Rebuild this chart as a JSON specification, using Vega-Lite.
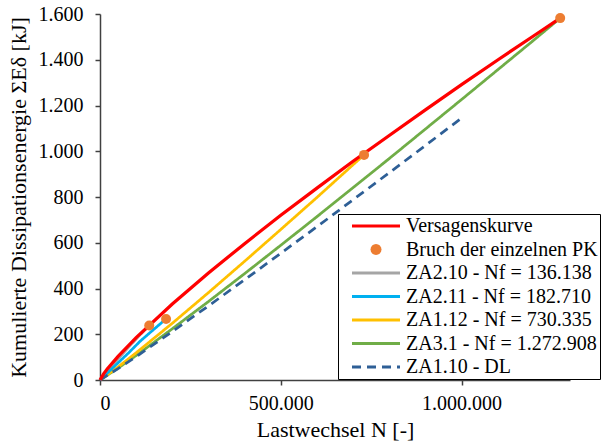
{
  "$schema": "https://vega.github.io/schema/vega-lite/v6.json",
  "width": 470,
  "height": 366,
  "autosize": {"type": "none"},
  "padding": {"left": 100, "top": 14, "right": 34, "bottom": 67},
  "background": "white",
  "config": {
    "view": {"stroke": null},
    "font": "Times New Roman",
    "locale": {"number": {"decimal": ",", "thousands": ".", "grouping": [3], "currency": ["", " €"]}},
    "axis": {
      "grid": false,
      "domainColor": "#404040",
      "domainWidth": 1.5,
      "tickColor": "#404040",
      "tickWidth": 1.5,
      "tickSize": 5,
      "labelColor": "black",
      "titleColor": "black",
      "labelFontSize": 20,
      "titleFontSize": 22,
      "titleFontWeight": "normal"
    }
  },
  "data": {
    "values": [
      {"s": "ZA3.1 - Nf = 1.272.908", "k": "line", "x": 0, "y": 0},
      {"s": "ZA3.1 - Nf = 1.272.908", "k": "line", "x": 50000, "y": 52},
      {"s": "ZA3.1 - Nf = 1.272.908", "k": "line", "x": 100000, "y": 107},
      {"s": "ZA3.1 - Nf = 1.272.908", "k": "line", "x": 200000, "y": 224},
      {"s": "ZA3.1 - Nf = 1.272.908", "k": "line", "x": 300000, "y": 343},
      {"s": "ZA3.1 - Nf = 1.272.908", "k": "line", "x": 400000, "y": 465},
      {"s": "ZA3.1 - Nf = 1.272.908", "k": "line", "x": 500000, "y": 589},
      {"s": "ZA3.1 - Nf = 1.272.908", "k": "line", "x": 600000, "y": 714},
      {"s": "ZA3.1 - Nf = 1.272.908", "k": "line", "x": 700000, "y": 841},
      {"s": "ZA3.1 - Nf = 1.272.908", "k": "line", "x": 800000, "y": 968},
      {"s": "ZA3.1 - Nf = 1.272.908", "k": "line", "x": 900000, "y": 1097},
      {"s": "ZA3.1 - Nf = 1.272.908", "k": "line", "x": 1000000, "y": 1226},
      {"s": "ZA3.1 - Nf = 1.272.908", "k": "line", "x": 1100000, "y": 1356},
      {"s": "ZA3.1 - Nf = 1.272.908", "k": "line", "x": 1200000, "y": 1486},
      {"s": "ZA3.1 - Nf = 1.272.908", "k": "line", "x": 1272908, "y": 1582},
      {"s": "ZA1.12 - Nf = 730.335", "k": "line", "x": 0, "y": 0},
      {"s": "ZA1.12 - Nf = 730.335", "k": "line", "x": 50000, "y": 57},
      {"s": "ZA1.12 - Nf = 730.335", "k": "line", "x": 100000, "y": 119},
      {"s": "ZA1.12 - Nf = 730.335", "k": "line", "x": 200000, "y": 248},
      {"s": "ZA1.12 - Nf = 730.335", "k": "line", "x": 300000, "y": 382},
      {"s": "ZA1.12 - Nf = 730.335", "k": "line", "x": 400000, "y": 519},
      {"s": "ZA1.12 - Nf = 730.335", "k": "line", "x": 500000, "y": 658},
      {"s": "ZA1.12 - Nf = 730.335", "k": "line", "x": 600000, "y": 798},
      {"s": "ZA1.12 - Nf = 730.335", "k": "line", "x": 700000, "y": 941},
      {"s": "ZA1.12 - Nf = 730.335", "k": "line", "x": 730335, "y": 984},
      {"s": "ZA2.10 - Nf = 136.138", "k": "line", "x": 0, "y": 0},
      {"s": "ZA2.10 - Nf = 136.138", "k": "line", "x": 20000, "y": 38},
      {"s": "ZA2.10 - Nf = 136.138", "k": "line", "x": 50000, "y": 92},
      {"s": "ZA2.10 - Nf = 136.138", "k": "line", "x": 80000, "y": 145},
      {"s": "ZA2.10 - Nf = 136.138", "k": "line", "x": 110000, "y": 196},
      {"s": "ZA2.10 - Nf = 136.138", "k": "line", "x": 136138, "y": 238},
      {"s": "ZA2.11 - Nf = 182.710", "k": "line", "x": 0, "y": 0},
      {"s": "ZA2.11 - Nf = 182.710", "k": "line", "x": 40000, "y": 60},
      {"s": "ZA2.11 - Nf = 182.710", "k": "line", "x": 80000, "y": 120},
      {"s": "ZA2.11 - Nf = 182.710", "k": "line", "x": 110000, "y": 168},
      {"s": "ZA2.11 - Nf = 182.710", "k": "line", "x": 150000, "y": 223},
      {"s": "ZA2.11 - Nf = 182.710", "k": "line", "x": 182710, "y": 267},
      {"s": "ZA1.10 - DL", "k": "line", "x": 0, "y": 0},
      {"s": "ZA1.10 - DL", "k": "line", "x": 50000, "y": 50},
      {"s": "ZA1.10 - DL", "k": "line", "x": 100000, "y": 102},
      {"s": "ZA1.10 - DL", "k": "line", "x": 200000, "y": 212},
      {"s": "ZA1.10 - DL", "k": "line", "x": 300000, "y": 324},
      {"s": "ZA1.10 - DL", "k": "line", "x": 400000, "y": 438},
      {"s": "ZA1.10 - DL", "k": "line", "x": 500000, "y": 554},
      {"s": "ZA1.10 - DL", "k": "line", "x": 600000, "y": 670},
      {"s": "ZA1.10 - DL", "k": "line", "x": 700000, "y": 788},
      {"s": "ZA1.10 - DL", "k": "line", "x": 800000, "y": 906},
      {"s": "ZA1.10 - DL", "k": "line", "x": 900000, "y": 1025},
      {"s": "ZA1.10 - DL", "k": "line", "x": 1000000, "y": 1145},
      {"s": "Versagenskurve", "k": "red", "x": 0, "y": 0},
      {"s": "Versagenskurve", "k": "red", "x": 10000, "y": 27},
      {"s": "Versagenskurve", "k": "red", "x": 20000, "y": 48},
      {"s": "Versagenskurve", "k": "red", "x": 50000, "y": 103},
      {"s": "Versagenskurve", "k": "red", "x": 100000, "y": 185},
      {"s": "Versagenskurve", "k": "red", "x": 200000, "y": 332},
      {"s": "Versagenskurve", "k": "red", "x": 300000, "y": 468},
      {"s": "Versagenskurve", "k": "red", "x": 400000, "y": 596},
      {"s": "Versagenskurve", "k": "red", "x": 500000, "y": 720},
      {"s": "Versagenskurve", "k": "red", "x": 600000, "y": 839},
      {"s": "Versagenskurve", "k": "red", "x": 700000, "y": 956},
      {"s": "Versagenskurve", "k": "red", "x": 800000, "y": 1069},
      {"s": "Versagenskurve", "k": "red", "x": 900000, "y": 1181},
      {"s": "Versagenskurve", "k": "red", "x": 1000000, "y": 1291},
      {"s": "Versagenskurve", "k": "red", "x": 1100000, "y": 1399},
      {"s": "Versagenskurve", "k": "red", "x": 1200000, "y": 1505},
      {"s": "Versagenskurve", "k": "red", "x": 1272908, "y": 1582},
      {"s": "Bruch der einzelnen PK", "k": "point", "x": 136138, "y": 238},
      {"s": "Bruch der einzelnen PK", "k": "point", "x": 182710, "y": 267},
      {"s": "Bruch der einzelnen PK", "k": "point", "x": 730335, "y": 984},
      {"s": "Bruch der einzelnen PK", "k": "point", "x": 1272908, "y": 1582}
    ]
  },
  "encoding": {
    "x": {
      "field": "x",
      "type": "quantitative",
      "scale": {"domain": [0, 1300000], "nice": false, "zero": true},
      "axis": {"title": "Lastwechsel N [-]", "values": [0, 500000, 1000000], "format": ",d", "labelPadding": 8, "titlePadding": 6, "labelFont": "Liberation Serif", "titleFont": "Liberation Serif"}
    },
    "y": {
      "field": "y",
      "type": "quantitative",
      "scale": {"domain": [0, 1600], "nice": false},
      "axis": {"title": "Kumulierte Dissipationsenergie ΣEδ [kJ]", "values": [0, 200, 400, 600, 800, 1000, 1200, 1400, 1600], "format": ",d", "labelPadding": 12, "titlePadding": 8, "labelFont": "Liberation Serif", "titleFont": "Liberation Serif"}
    },
    "color": {
      "field": "s",
      "type": "nominal",
      "scale": {
        "domain": ["Versagenskurve", "Bruch der einzelnen PK", "ZA2.10 - Nf = 136.138", "ZA2.11 - Nf = 182.710", "ZA1.12 - Nf = 730.335", "ZA3.1 - Nf = 1.272.908", "ZA1.10 - DL"],
        "range": ["#FF0000", "#ED7D31", "#A5A5A5", "#00B0F0", "#FFC000", "#70AD47", "#2E5F96"]
      },
      "legend": {
        "title": null,
        "orient": "none",
        "legendX": 238,
        "legendY": 200,
        "padding": 2,
        "rowPadding": 3.5,
        "symbolSize": 400,
        "labelFontSize": 20,
        "labelFont": "Liberation Serif",
        "labelColor": "black",
        "labelOffset": 46,
        "labelLimit": 300,
        "fillColor": "white",
        "strokeColor": "black",
        "encode": {
          "symbols": {
            "update": {
              "shape": {"signal": "datum.value === 'Bruch der einzelnen PK' ? 'M3.15,0L3.108,0.2105L2.989,0.389L2.8105,0.508L2.6,0.55L2.3895,0.508L2.211,0.389L2.092,0.2105L2.05,0L2.092,-0.2105L2.211,-0.389L2.3895,-0.508L2.6,-0.55L2.8105,-0.508L2.989,-0.389L3.108,-0.2105Z' : 'M0.2,0L5,0'"},
              "size": {"value": 400},
              "stroke": {"signal": "scale('color', datum.value)"},
              "fill": {"signal": "datum.value === 'Bruch der einzelnen PK' ? '#ED7D31' : 'transparent'"},
              "strokeWidth": {"signal": "datum.value === 'Bruch der einzelnen PK' ? 0 : 3"},
              "strokeDash": {"signal": "datum.value === 'ZA1.10 - DL' ? [9, 6] : [1, 0]"},
              "opacity": {"value": 1}
            }
          }
        }
      }
    }
  },
  "layer": [
    {
      "transform": [{"filter": "datum.k === 'line'"}],
      "mark": {"type": "line", "strokeWidth": 2.75},
      "encoding": {
        "strokeDash": {
          "field": "s",
          "type": "nominal",
          "scale": {
            "domain": ["ZA3.1 - Nf = 1.272.908", "ZA1.12 - Nf = 730.335", "ZA2.10 - Nf = 136.138", "ZA2.11 - Nf = 182.710", "ZA1.10 - DL"],
            "range": [[1, 0], [1, 0], [1, 0], [1, 0], [9, 6]]
          },
          "legend": null
        }
      }
    },
    {
      "transform": [{"filter": "datum.k === 'red'"}],
      "mark": {"type": "line", "strokeWidth": 3.25},
      "encoding": {}
    },
    {
      "transform": [{"filter": "datum.k === 'point'"}],
      "mark": {"type": "point", "filled": true, "shape": "circle", "size": 100, "opacity": 1},
      "encoding": {}
    }
  ]
}
